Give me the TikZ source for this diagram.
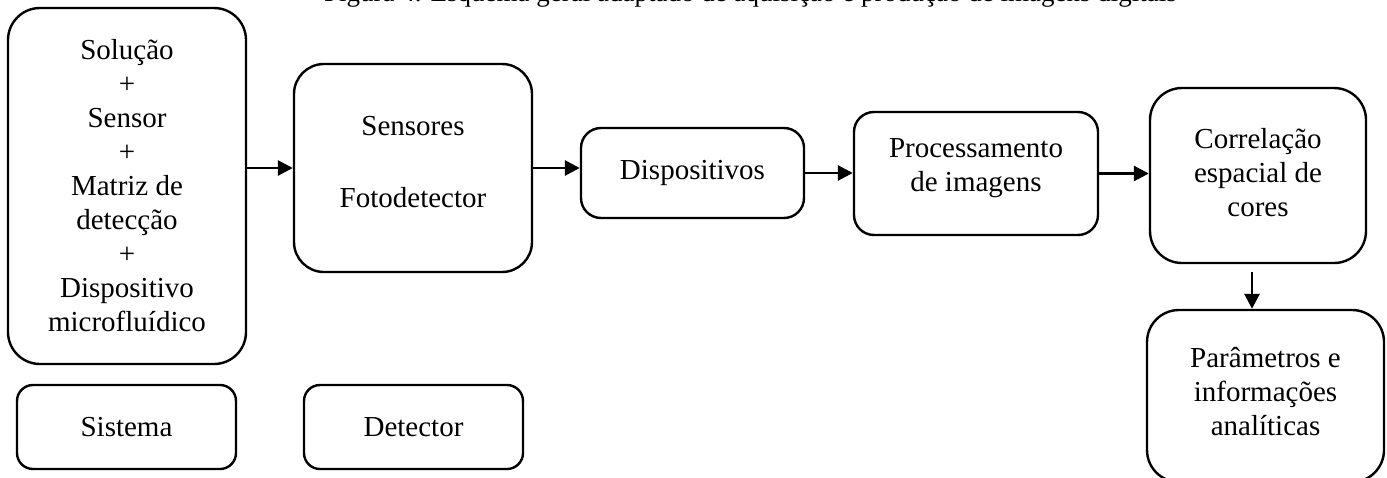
\documentclass[tikz,border=0pt]{standalone}
\usepackage{fontspec}
\setmainfont{Liberation Serif}
\usetikzlibrary{arrows.meta}

\tikzset{
  caixa/.style={draw, line width=2.4pt, rounded corners=#1, inner sep=0pt, align=center},
  caixa/.default=20pt,
  seta/.style={line width=2.8pt, -{Triangle[length=15pt,width=15pt]}},
  texto/.style={align=center},
}

\begin{document}
\begin{tikzpicture}[x=1pt, y=-1pt, font=\fontsize{29}{34}\selectfont]
  \useasboundingbox (0,0) rectangle (1387,477);

  % legenda (cortada no topo da figura)
  \node[anchor=base west, inner sep=0pt, font=\fontsize{27}{32}\selectfont] (leg) at (324,1)
    {Figura 4. Esquema geral adaptado de aquisição e produção de imagens digitais};

  % caixas
  \node[caixa=32pt, minimum width=238pt, minimum height=356pt] (sol) at (127,186)
    {Solução\\+\\Sensor\\+\\Matriz de\\detecção\\+\\Dispositivo\\microfluídico};
  \node[caixa=30pt, minimum width=238pt, minimum height=208pt] (sen) at (413,168) {};
  \node[texto] (sentxt) at (413,162) {Sensores\\[38pt]Fotodetector};
  \node[caixa, minimum width=223pt, minimum height=90pt] (disp) at (692.5,173) {Dispositivos};
  \node[caixa, minimum width=244pt, minimum height=123pt] (proc) at (976,173.5) {};
  \node[texto] (proctxt) at (976,168.5) {Processamento\\de imagens};
  \node[caixa=32pt, minimum width=216pt, minimum height=175pt] (cor) at (1258,175.5) {};
  \node[texto] (cortxt) at (1258,173) {Correlação\\espacial de\\cores};
  \node[caixa=32pt, minimum width=237pt, minimum height=172pt] (par) at (1265.5,396) {};
  \node[texto] (partxt) at (1265.5,391.5) {Parâmetros e\\informações\\analíticas};
  \node[caixa=16pt, minimum width=219pt, minimum height=84pt] (sis) at (126.5,427) {Sistema};
  \node[caixa=16pt, minimum width=219pt, minimum height=84pt] (det) at (413.5,427) {Detector};

  % setas
  \draw[seta] (sol.east |- sen.west) -- (sen.west);
  \draw[seta] (sen.east) -- (sen.east -| disp.west);
  \draw[seta] (disp.east) -- (disp.east -| proc.west);
  \draw[seta] (proc.east) -- (proc.east -| cor.west);
  \coordinate (c1) at (1252,272);
  \draw[seta] (c1) -- (c1 |- par.north);
\end{tikzpicture}
\end{document}
